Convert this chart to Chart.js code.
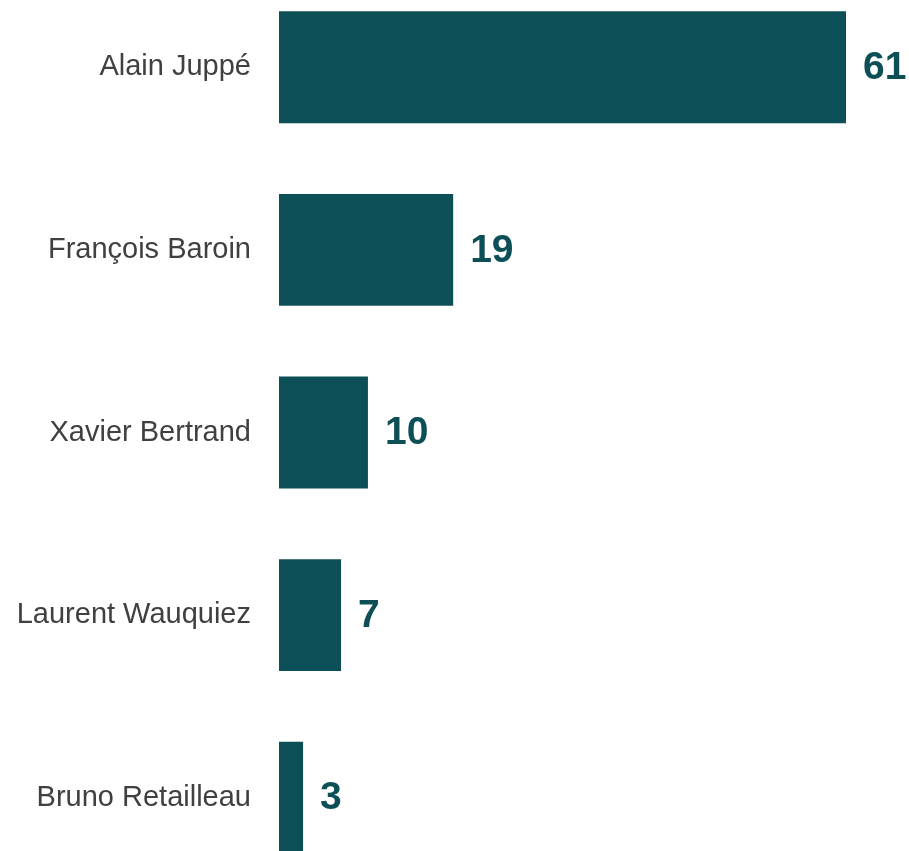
<!DOCTYPE html>
<html>
<head>
<meta charset="utf-8">
<script src="https://cdn.jsdelivr.net/npm/chart.js@4.4.1/dist/chart.umd.min.js"></script>
<style>
    html, body { margin: 0; padding: 0; background: #fff; overflow: hidden; }
    #wrap { position: absolute; left: 0; top: -24px; width: 909px; height: 913px; }
</style>
</head>
<body>
<div id="wrap"><canvas id="barChart"></canvas></div>
<script>
const candidates = ["Alain Juppé", "François Baroin", "Xavier Bertrand", "Laurent Wauquiez", "Bruno Retailleau"];
const scores = [61.2, 18.8, 9.6, 6.7, 2.6];
const scoreLabels = ["61", "19", "10", "7", "3"];

const barColor = "#0d4f56";

// draws the big bold number right of each bar
const valueLabels = {
    id: 'valueLabels',
    afterDatasetsDraw(chart) {
        const ctx = chart.ctx;
        const meta = chart.getDatasetMeta(0);
        ctx.save();
        ctx.font = "bold 39px 'Liberation Sans', Arial, sans-serif";
        ctx.fillStyle = barColor;
        ctx.textAlign = 'left';
        ctx.textBaseline = 'middle';
        meta.data.forEach((bar, i) => {
            ctx.fillText(scoreLabels[i], bar.x + 17, bar.y + 1);
        });
        ctx.restore();
    }
};

new Chart(document.getElementById('barChart'), {
    type: 'bar',
    data: {
        labels: candidates,
        datasets: [{
            data: scores,
            backgroundColor: barColor,
            borderWidth: 0,
            barPercentage: 0.613,
            categoryPercentage: 1
        }]
    },
    options: {
        indexAxis: 'y',
        responsive: true,
        maintainAspectRatio: false,
        animation: false,
        layout: { padding: 0, autoPadding: false },
        plugins: {
            legend: { display: false },
            tooltip: { enabled: false }
        },
        scales: {
            x: {
                display: false,
                min: 0,
                max: 68
            },
            y: {
                offset: true,
                border: { display: false },
                grid: { display: false, drawTicks: false },
                ticks: {
                    color: '#404040',
                    padding: 28,
                    font: { family: "'Liberation Sans', Arial, sans-serif", size: 29 }
                },
                afterFit(scale) {
                    scale.width = 279;
                    scale.paddingTop = 0;
                    scale.paddingBottom = 0;
                }
            }
        }
    },
    plugins: [valueLabels]
});
</script>
</body>
</html>
